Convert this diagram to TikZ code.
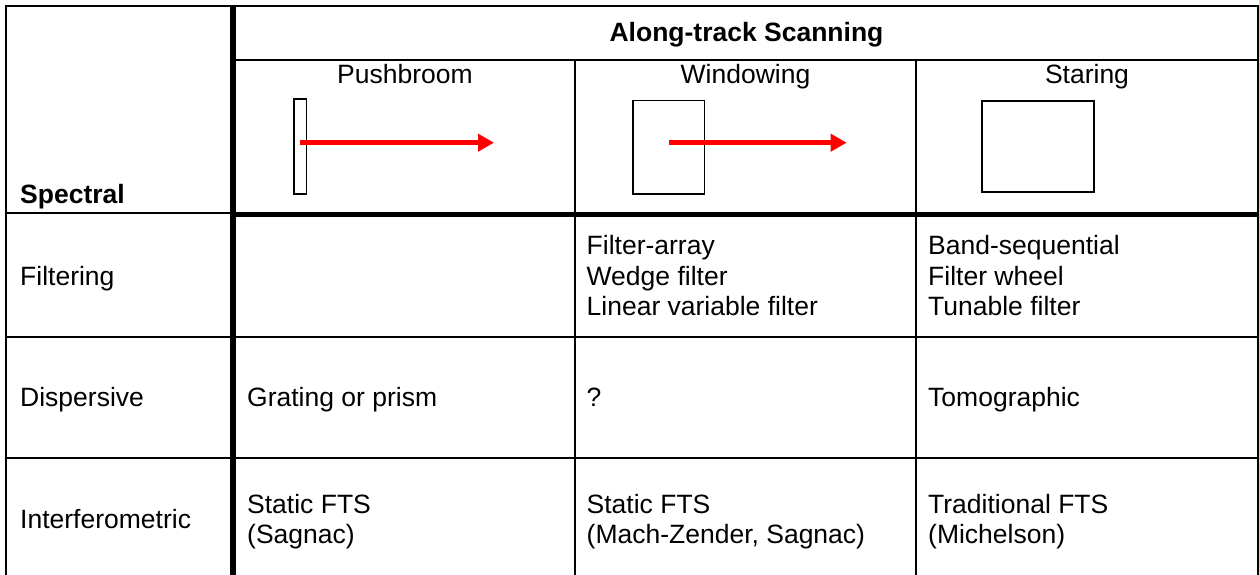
\documentclass[tikz,border=0pt]{standalone}
\usepackage{fontspec}
\setmainfont{Liberation Sans}
\usetikzlibrary{arrows.meta}
\definecolor{scanred}{RGB}{255,0,0}
\begin{document}
\begin{tikzpicture}[x=1pt,y=-1pt,
  thinrule/.style={line width=2pt},
  thickrule/.style={line width=5.8pt},
  txt/.style={inner sep=0pt,anchor=base west,font=\fontsize{26.5}{30.5}\selectfont},
  ctxt/.style={inner sep=0pt,anchor=base,font=\fontsize{26.5}{30.5}\selectfont},
  footprint/.style={draw,line width=1.4pt,inner sep=0pt,fill=white},
  scanarrow/.style={draw=scanred,line width=4.5pt,-{Triangle[length=16pt,width=17pt]},fill=scanred}]
\useasboundingbox (0,0) rectangle (1259,575);

% outer frame (the table continues past the lower edge)
\draw[thinrule] (6,585) -- (6,6) -- (1258,6) -- (1258,585);
% header rule and column dividers
\draw[thinrule] (235,60) -- (1258,60);
\draw[thinrule] (575,60) -- (575,585);
\draw[thinrule] (916,60) -- (916,585);
% row rules
\draw[thinrule] (6,213) -- (233,213);
\draw[thinrule] (6,336.5) -- (1258,336.5);
\draw[thinrule] (6,458) -- (1258,458);
% heavy rules separating the headings
\draw[thickrule] (233,214.5) -- (1258,214.5);
\draw[thickrule] (233,6) -- (233,585);

% headings
\node[ctxt,font=\fontsize{26.5}{30.5}\selectfont\bfseries] (along) at (746.5,42) {Along-track Scanning};
\node[ctxt] (push) at (405,83.5) {Pushbroom};
\node[ctxt] (wind) at (745.5,83.5) {Windowing};
\node[ctxt] (star) at (1087,83.5) {Staring};
\node[txt,font=\fontsize{26.5}{30.5}\selectfont\bfseries] (spec) at (20,204) {Spectral};

% footprints and scan directions
\node[footprint,minimum width=12.7pt,minimum height=95pt] (pbbar) at (300.3,146.7) {};
\coordinate (pbend) at (494,142.7);
\draw[scanarrow] (pbbar.center |- pbend) -- (pbend);

\node[footprint,minimum width=71.3pt,minimum height=93.7pt] (wnbox) at (668.7,147.2) {};
\coordinate (wnend) at (846.7,142.7);
\draw[scanarrow] (wnbox.center |- wnend) -- (wnend);

\node[footprint,minimum width=112pt,minimum height=91pt] (stbox) at (1038,146.5) {};

% row labels
\node[txt] (filt) at (20,285) {Filtering};
\node[txt] (disp) at (20,406.5) {Dispersive};
\node[txt] (intf) at (20,528.5) {Interferometric};

% Filtering row
\node[txt] (fa) at (586.5,254.5) {Filter-array};
\node[txt] (wf) at (586.5,285) {Wedge filter};
\node[txt] (lv) at (586.5,315.5) {Linear variable filter};
\node[txt] (bs) at (928,254.5) {Band-sequential};
\node[txt] (fw) at (928,285) {Filter wheel};
\node[txt] (tf) at (928,315.5) {Tunable filter};

% Dispersive row
\node[txt] (gp) at (247,406.5) {Grating or prism};
\node[txt] (qm) at (586.5,406.5) {?};
\node[txt] (tm) at (928,406.5) {Tomographic};

% Interferometric row
\node[txt] (sf1) at (247,513) {Static FTS};
\node[txt] (sg1) at (247,543.5) {(Sagnac)};
\node[txt] (sf2) at (586.5,513) {Static FTS};
\node[txt] (sg2) at (586.5,543.5) {(Mach-Zender, Sagnac)};
\node[txt] (tfts) at (928,513) {Traditional FTS};
\node[txt] (mich) at (928,543.5) {(Michelson)};
\end{tikzpicture}
\end{document}
